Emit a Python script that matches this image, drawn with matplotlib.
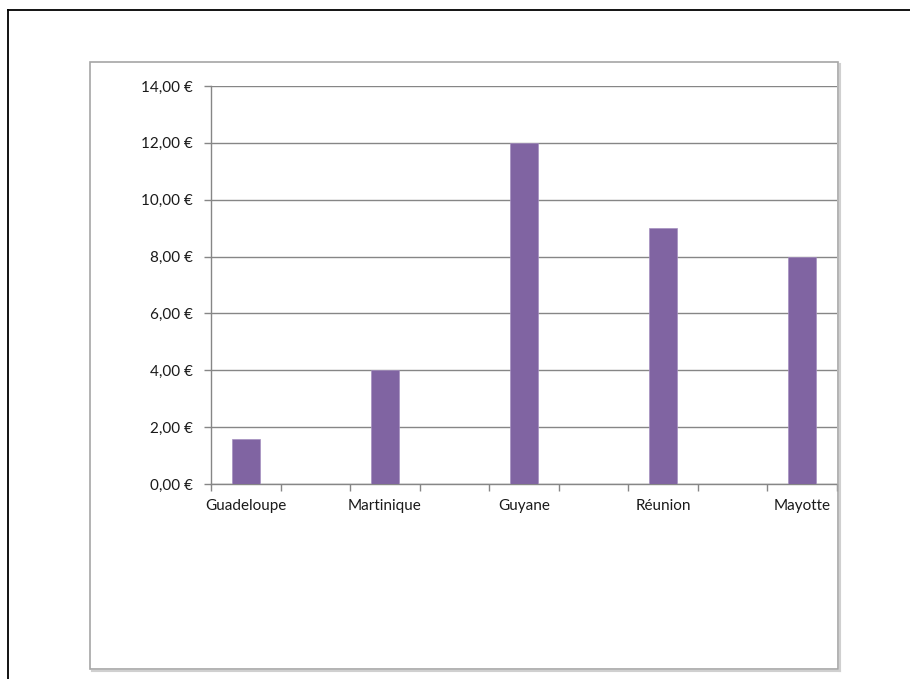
import matplotlib
matplotlib.use("Agg")
import matplotlib.pyplot as plt
from matplotlib.lines import Line2D
from matplotlib.patches import Rectangle
from matplotlib.ticker import FuncFormatter

categories = ["Guadeloupe", "Martinique", "Guyane", "Réunion", "Mayotte"]
values = [1.6, 4.0, 12.0, 9.0, 8.0]
y_ticks = [0, 2, 4, 6, 8, 10, 12, 14]

plt.rcParams['font.family'] = ['Lato', 'DejaVu Sans']

W, H = 910, 679
fig = plt.figure(figsize=(W / 100, H / 100), dpi=100)

def fx(px):
    return px / W

def fy(py):
    return 1 - py / H

# page border (top and left)
fig.add_artist(Line2D([fx(8), fx(910)], [fy(10), fy(10)], color='black', lw=1.3, transform=fig.transFigure))
fig.add_artist(Line2D([fx(8), fx(8)], [fy(10), fy(679)], color='black', lw=1.3, transform=fig.transFigure))

# chart box with slight shadow
fig.add_artist(Line2D([fx(92), fx(840)], [fy(671), fy(671)], color='#d0d0d0', lw=1.5, transform=fig.transFigure))
fig.add_artist(Line2D([fx(840), fx(840)], [fy(64), fy(671)], color='#d0d0d0', lw=1.5, transform=fig.transFigure))
fig.add_artist(Rectangle((fx(90), fy(669)), fx(838) - fx(90), fy(62) - fy(669),
                         fill=False, edgecolor='#a6a6a6', lw=1.2, transform=fig.transFigure))

left, right, top, bottom = 211, 837, 86, 484
ax = fig.add_axes([fx(left), fy(bottom), fx(right) - fx(left), fy(top) - fy(bottom)])

positions = [2 * i for i in range(len(categories))]
ax.bar(positions, values, width=0.4, color='#8064A2', edgecolor='#a58fc0', linewidth=0.5, zorder=3)

ax.set_xlim(-0.5, 2 * len(categories) - 1.5)
ax.set_ylim(0, 14)
ax.set_yticks(y_ticks)
ax.yaxis.set_major_formatter(FuncFormatter(lambda v, p: f"{v:.2f}".replace('.', ',') + " €"))
ax.yaxis.grid(True, color='#868686', lw=1.0, zorder=0)

ax.set_xticks(positions)
ax.set_xticklabels(categories)
ax.set_xticks([k - 0.5 for k in range(2 * len(categories))], minor=True)
ax.tick_params(axis='x', which='major', length=0, pad=11, labelsize=11, labelcolor='#1a1a1a')
ax.tick_params(axis='x', which='minor', length=5, color='#868686', width=1, direction='out')
ax.tick_params(axis='y', length=5, color='#868686', width=1, pad=8, labelsize=11, labelcolor='#1a1a1a')

for s in ['top', 'right']:
    ax.spines[s].set_visible(False)
for s in ['left', 'bottom']:
    ax.spines[s].set_color('#868686')
    ax.spines[s].set_linewidth(1.0)

fig.savefig('out.png', dpi=100)
